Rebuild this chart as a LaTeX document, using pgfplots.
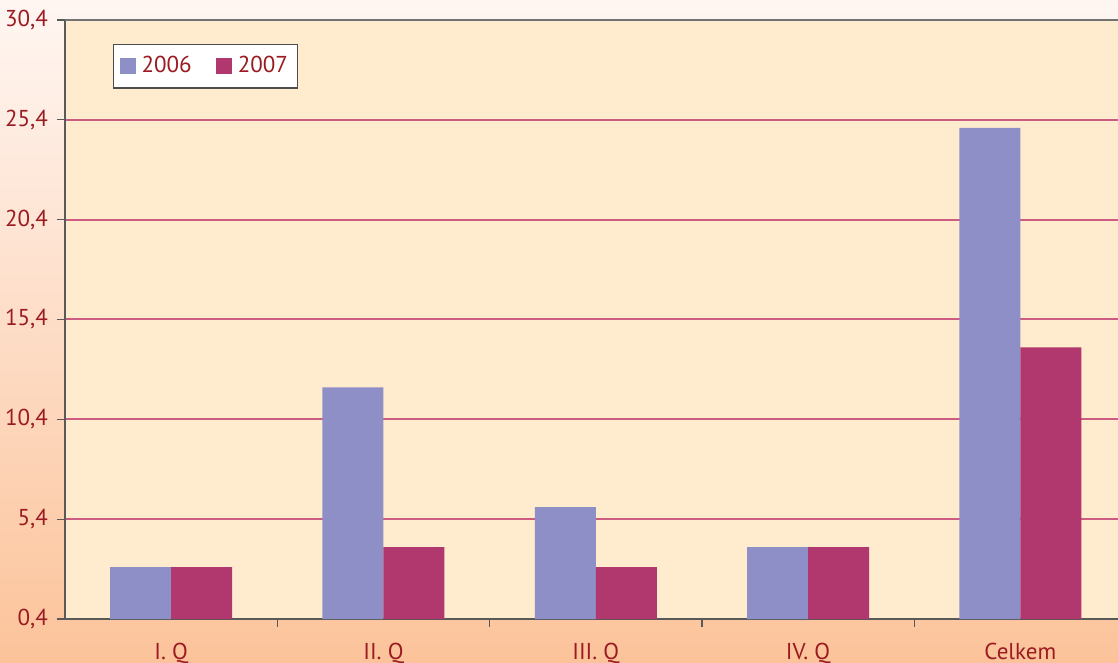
\documentclass[border=0pt]{standalone}
\usepackage{pgfplots}
\pgfplotsset{compat=1.18}
\usepackage{fontspec}
\setmainfont{PT Sans}
\definecolor{txt}{HTML}{9B1B22}
\definecolor{cA}{HTML}{8F8FC8}
\definecolor{cB}{HTML}{B0386E}
\definecolor{gridc}{HTML}{CC5C82}
\definecolor{plotbg}{HTML}{FFEBCD}
\definecolor{outtop}{HTML}{FFF6F2}
\definecolor{outbot}{HTML}{FCC39A}
\begin{document}
\begin{tikzpicture}
\shade[top color=outtop, bottom color=outbot] (-32.5pt,-22pt) rectangle (526.5pt,309.5pt);
\path[use as bounding box] (-32.5pt,-22pt) rectangle (526.5pt,309.5pt);
\begin{axis}[
  at={(0,0)}, anchor=south west,
  scale only axis, width=526.5pt, height=299.5pt,
  ybar=0pt, bar width=30.5pt,
  xmin=-0.5, xmax=4.46, ymin=0.4, ymax=30.4,
  axis lines*=left,
  axis line style={draw=black!65, line width=0.7pt},
  axis background/.style={fill=plotbg},
  xtick={0,1,2,3,4},
  xticklabels={I. Q, II. Q, III. Q, IV. Q, Celkem},
  major x tick style={draw=none},
  minor xtick={0.5,1.5,2.5,3.5},
  minor x tick style={black!65, line width=0.6pt},
  ytick={0.4,5.4,10.4,15.4,20.4,25.4,30.4},
  yticklabels={{0,4},{5,4},{10,4},{15,4},{20,4},{25,4},{30,4}},
  y tick style={black!65, line width=0.6pt},
  tick align=outside, major tick length=4pt, minor tick length=4pt,
  ymajorgrids,
  major grid style={draw=gridc, line width=1pt},
  tick label style={font=\fontsize{11.5}{13}\selectfont, text=txt},
  xticklabel style={yshift=-4.5pt},
  yticklabel style={xshift=-1pt},
  legend style={at={(rel axis cs:0.0456,0.96)}, anchor=north west,
    draw=black!70, fill=white, line width=0.6pt,
    font=\fontsize{11.5}{13}\selectfont, text=txt,
    inner xsep=3pt, inner ysep=4pt,
    /tikz/every even column/.append style={column sep=10pt}},
  legend columns=2,
  legend image code/.code={\fill[#1] (0pt,-4pt) rectangle (8pt,4pt);},
]
\addplot[fill=cA, draw=none] coordinates {(0,3) (1,12) (2,6) (3,4) (4,25)};
\addplot[fill=cB, draw=none] coordinates {(0,3) (1,4) (2,3) (3,4) (4,14)};
\legend{\hspace{1pt}2006,\hspace{1pt}2007}
\draw[black!55, line width=0.7pt] (rel axis cs:0,1) -- (rel axis cs:1,1);
\end{axis}
\end{tikzpicture}
\end{document}
